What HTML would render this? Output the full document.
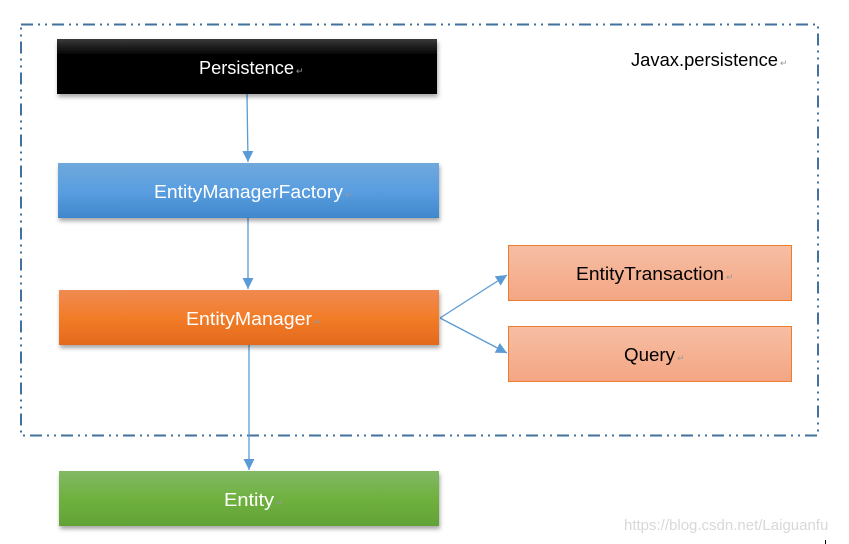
<!DOCTYPE html>
<html><head><meta charset="utf-8"><style>
html,body{margin:0;padding:0;background:#fff;}
svg{display:block;}
text{font-family:"Liberation Sans",sans-serif;font-size:18px;}
.r{font-size:9px;fill:#999;}
</style></head><body>
<svg width="849" height="544" viewBox="0 0 849 544" xmlns="http://www.w3.org/2000/svg">
<defs>
<linearGradient id="gk" x1="0" y1="0" x2="0" y2="1"><stop offset="0" stop-color="#3a3a3a"/><stop offset="0.3" stop-color="#000"/><stop offset="1" stop-color="#000"/></linearGradient>
<linearGradient id="gb" x1="0" y1="0" x2="0" y2="1"><stop offset="0" stop-color="#6fa8dc"/><stop offset="0.5" stop-color="#5a9ee0"/><stop offset="1" stop-color="#3f88cc"/></linearGradient>
<linearGradient id="go" x1="0" y1="0" x2="0" y2="1"><stop offset="0" stop-color="#f08a52"/><stop offset="0.5" stop-color="#f27c28"/><stop offset="1" stop-color="#e3691c"/></linearGradient>
<linearGradient id="gg" x1="0" y1="0" x2="0" y2="1"><stop offset="0" stop-color="#82b865"/><stop offset="0.5" stop-color="#6fb13f"/><stop offset="1" stop-color="#62a236"/></linearGradient>
<linearGradient id="gs" x1="0" y1="0" x2="0" y2="1"><stop offset="0" stop-color="#f6bea4"/><stop offset="1" stop-color="#f4a683"/></linearGradient>
<filter id="sh" x="-5%" y="-20%" width="110%" height="150%"><feDropShadow dx="1" dy="3" stdDeviation="2" flood-color="#000" flood-opacity="0.35"/></filter>
<marker id="ar" viewBox="0 0 10 10" refX="10" refY="5" markerWidth="11" markerHeight="11" markerUnits="userSpaceOnUse" orient="auto"><path d="M0,0 L10,5 L0,10 z" fill="#5b9bd5"/></marker>
</defs>
<rect x="21" y="24.5" width="797" height="411" fill="none" stroke="#41719c" stroke-width="2" stroke-dasharray="12,5,2,5,2,5"/>
<g stroke="#5b9bd5" stroke-width="1.3" fill="none" marker-end="url(#ar)">
<line x1="247" y1="94" x2="248" y2="162"/>
<line x1="248" y1="218" x2="248" y2="289"/>
<line x1="249" y1="345" x2="249" y2="470"/>
<line x1="440" y1="318" x2="507" y2="275"/>
<line x1="440" y1="318" x2="507" y2="353"/>
</g>
<rect x="57" y="39" width="380" height="55" fill="url(#gk)" filter="url(#sh)"/>
<rect x="58" y="163" width="381" height="55" fill="url(#gb)" filter="url(#sh)"/>
<rect x="59" y="290" width="380" height="55" fill="url(#go)" filter="url(#sh)"/>
<rect x="59" y="471" width="380" height="55" fill="url(#gg)" filter="url(#sh)"/>
<rect x="508.5" y="245.5" width="283" height="55" fill="url(#gs)" stroke="#ed7d31" stroke-width="1"/>
<rect x="508.5" y="326.5" width="283" height="55" fill="url(#gs)" stroke="#ed7d31" stroke-width="1"/>
<g fill="#fff">
<text x="199" y="74" textLength="95" lengthAdjust="spacingAndGlyphs">Persistence</text><text x="296" y="74" class="r">↵</text>
<text x="154" y="198" textLength="189" lengthAdjust="spacingAndGlyphs">EntityManagerFactory</text><text x="345" y="198" class="r">↵</text>
<text x="186" y="325" textLength="126" lengthAdjust="spacingAndGlyphs">EntityManager</text><text x="314" y="325" class="r">↵</text>
<text x="224" y="506" textLength="50" lengthAdjust="spacingAndGlyphs">Entity</text><text x="276" y="506" class="r">↵</text>
</g>
<g fill="#000">
<text x="576" y="280" textLength="148" lengthAdjust="spacingAndGlyphs">EntityTransaction</text><text x="726" y="280" class="r">↵</text>
<text x="624" y="361" textLength="51" lengthAdjust="spacingAndGlyphs">Query</text><text x="677" y="361" class="r">↵</text>
<text x="631" y="66" textLength="147" lengthAdjust="spacingAndGlyphs">Javax.persistence</text><text x="780" y="66" class="r">↵</text>
</g>
<text x="624" y="530" fill="#d8d8d8" style="font-size:15px">https://blog.csdn.net/Laiguanfu</text>
<line x1="825.5" y1="540" x2="825.5" y2="544" stroke="#000"/>
</svg>
</body></html>
